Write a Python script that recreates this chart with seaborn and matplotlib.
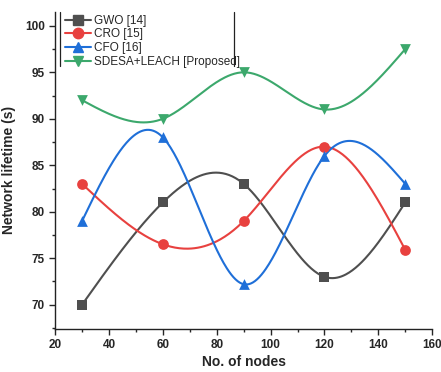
import numpy as np
import pandas as pd
import matplotlib
matplotlib.use("Agg")
import matplotlib.pyplot as plt
import seaborn as sns
from matplotlib.ticker import MultipleLocator

nodes = [30, 60, 90, 120, 150]
gwo = [70, 81, 83, 73, 81]
cro = [83, 76.5, 79, 87, 75.9]
cfo = [79, 88, 72.2, 86, 83]
sdesa = [92, 90, 95, 91, 97.5]
names = ["GWO [14]", "CRO [15]", "CFO [16]", "SDESA+LEACH [Proposed]"]
colors = ["#4f4f4f", "#e8413f", "#1f6fd8", "#3ca86c"]
markers = ["s", "o", "^", "v"]


def natural_spline(x, y, n=300):
    x = np.asarray(x, float)
    y = np.asarray(y, float)
    k = len(x)
    h = np.diff(x)
    A = np.zeros((k, k))
    b = np.zeros(k)
    A[0, 0] = A[-1, -1] = 1
    for i in range(1, k - 1):
        A[i, i - 1] = h[i - 1]
        A[i, i] = 2 * (h[i - 1] + h[i])
        A[i, i + 1] = h[i]
        b[i] = 6 * ((y[i + 1] - y[i]) / h[i] - (y[i] - y[i - 1]) / h[i - 1])
    M = np.linalg.solve(A, b)
    xs = np.linspace(x[0], x[-1], n)
    ys = np.empty_like(xs)
    for j, t in enumerate(xs):
        i = min(np.searchsorted(x, t, side="right") - 1, k - 2)
        dx1 = x[i + 1] - t
        dx0 = t - x[i]
        ys[j] = (M[i] * dx1 ** 3 / (6 * h[i]) + M[i + 1] * dx0 ** 3 / (6 * h[i])
                 + (y[i] / h[i] - M[i] * h[i] / 6) * dx1
                 + (y[i + 1] / h[i] - M[i + 1] * h[i] / 6) * dx0)
    return xs, ys


sns.set_theme(style="ticks")
plt.rcParams["font.family"] = ["Liberation Sans", "DejaVu Sans"]

fig = plt.figure(figsize=(4.41, 3.72), dpi=100)
ax = fig.add_axes([0.125, 0.116, 0.855, 0.852])

series = [gwo, cro, cfo, sdesa]
for vals, name, c, m in zip(series, names, colors, markers):
    xs, ys = natural_spline(nodes, vals)
    sns.lineplot(x=xs, y=ys, ax=ax, color=c, lw=1.5)
    sns.scatterplot(x=nodes, y=vals, ax=ax, color=c, marker=m, s=60,
                    edgecolor=c, linewidth=0, zorder=3)
    ax.plot([], [], color=c, marker=m, markersize=7.5, lw=1.5, label=name)

ax.set_xlim(20, 160)
ax.set_ylim(67.4, 101.5)
ax.xaxis.set_major_locator(MultipleLocator(20))
ax.xaxis.set_minor_locator(MultipleLocator(10))
ax.yaxis.set_major_locator(MultipleLocator(5))
ax.yaxis.set_minor_locator(MultipleLocator(2.5))
ax.tick_params(which="major", direction="out", length=4, width=1, labelsize=8.5)
ax.tick_params(which="minor", direction="out", length=2.5, width=1)
for lab in ax.get_xticklabels() + ax.get_yticklabels():
    lab.set_fontweight("bold")
for s in ["top", "right"]:
    ax.spines[s].set_visible(False)
for s in ["left", "bottom"]:
    ax.spines[s].set_linewidth(1)
    ax.spines[s].set_color("#222222")

ax.set_xlabel("No. of nodes", fontsize=10, fontweight="bold", labelpad=3)
ax.set_ylabel("Network lifetime (s)", fontsize=10, fontweight="bold", labelpad=6)

leg = ax.legend(loc="upper left", bbox_to_anchor=(0.01, 1.01), frameon=False,
                fontsize=8.5, handlelength=2.2, handletextpad=0.3,
                labelspacing=0.15, borderaxespad=0.1)
# vertical frame lines of the legend box
ax.plot([0.012, 0.012], [0.83, 1.0], transform=ax.transAxes, color="#222222", lw=0.9, clip_on=False)
ax.plot([0.475, 0.475], [0.83, 1.0], transform=ax.transAxes, color="#222222", lw=0.9, clip_on=False)

fig.savefig("out.png", dpi=100)
